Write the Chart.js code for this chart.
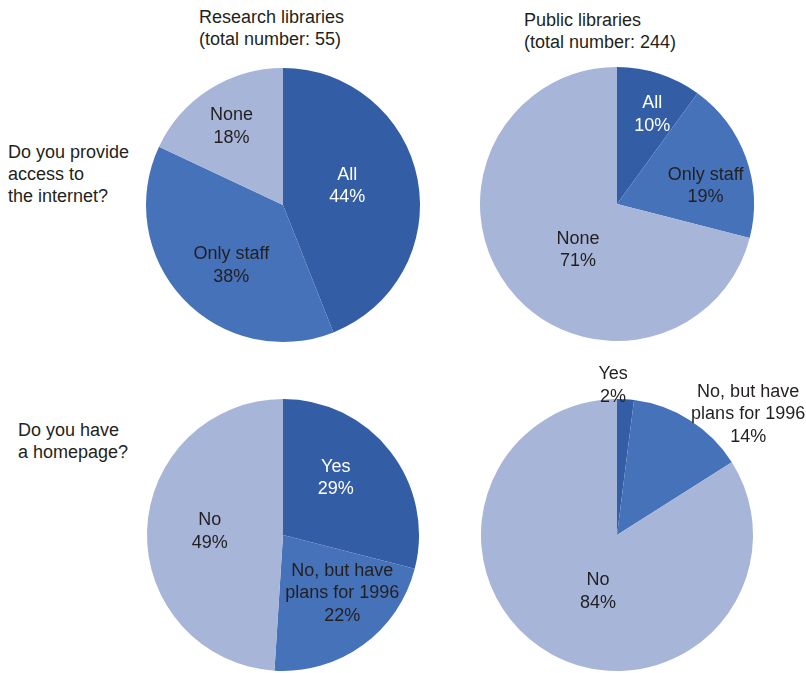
<!DOCTYPE html>
<html lang="en">
<head>
  <meta charset="UTF-8">
  <title>Internet access and homepages in libraries</title>
  <script src="https://cdn.jsdelivr.net/npm/chart.js"></script>
  <style>
    body {
      margin: 0;
      width: 806px;
      height: 673px;
      overflow: hidden;
      background: #fff;
      position: relative;
      font-family: "Liberation Sans", Arial, sans-serif;
      font-size: 18px;
      line-height: 22px;
      color: #231f20;
    }
    .txt { position: absolute; white-space: nowrap; }
    canvas { position: absolute; }
  </style>
</head>
<body>
  <div class="txt" style="left:199px; top:6px;">Research libraries<br>(total number: 55)</div>
  <div class="txt" style="left:524px; top:9px;">Public libraries<br>(total number: 244)</div>
  <div class="txt" style="left:8px; top:141px;">Do you provide<br>access to<br>the internet?</div>
  <div class="txt" style="left:18px; top:419px;">Do you have<br>a homepage?</div>

  <canvas id="researchInternet" width="294" height="294" style="left:136px; top:58px;"></canvas>
  <canvas id="publicInternet" width="294" height="294" style="left:470px; top:57px;"></canvas>
  <canvas id="researchHomepage" width="292" height="292" style="left:137px; top:389px;"></canvas>
  <canvas id="publicHomepage" width="346" height="331" style="left:460px; top:350px;"></canvas>

  <script>
    // data
    const internetLabels = ['All', 'Only staff', 'None'];
    const homepageLabels = ['Yes', 'No, but have\nplans for 1996', 'No'];
    const researchInternet = [44, 38, 18];
    const publicInternet = [10, 19, 71];
    const researchHomepage = [29, 22, 49];
    const publicHomepage = [2, 14, 84];

    const sliceColors = ['#335ea6', '#4672ba', '#a7b5d9'];
    const dark = '#231f20';

    // draws "label / value%" inside (or next to) each slice
    // place = [angle shift in degrees from slice middle, fraction of radius]
    const sliceLabels = {
      id: 'sliceLabels',
      afterDatasetsDraw(chart, args, opts) {
        const ctx = chart.ctx;
        const meta = chart.getDatasetMeta(0);
        const values = chart.data.datasets[0].data;
        ctx.save();
        ctx.font = '18px "Liberation Sans", Arial, sans-serif';
        ctx.textAlign = 'center';
        ctx.textBaseline = 'middle';
        meta.data.forEach((arc, i) => {
          const p = arc.getProps(['x', 'y', 'startAngle', 'endAngle', 'outerRadius'], true);
          const place = opts.place[i];
          const mid = (p.startAngle + p.endAngle) / 2 + place[0] * Math.PI / 180;
          const r = p.outerRadius * place[1];
          const cx = p.x + Math.cos(mid) * r;
          const cy = p.y + Math.sin(mid) * r;
          const lines = chart.data.labels[i].split('\n').concat([values[i] + '%']);
          ctx.fillStyle = opts.colors[i];
          lines.forEach((line, k) => {
            ctx.fillText(line, cx, cy + (k - (lines.length - 1) / 2) * 22.5);
          });
        });
        ctx.restore();
      }
    };

    function makePie(id, labels, values, padding, place, colors) {
      new Chart(document.getElementById(id), {
        type: 'pie',
        data: {
          labels: labels,
          datasets: [{
            data: values,
            backgroundColor: sliceColors,
            borderWidth: 0
          }]
        },
        options: {
          responsive: false,
          animation: false,
          devicePixelRatio: 1,
          layout: { padding: padding },
          plugins: {
            legend: { display: false },
            tooltip: { enabled: false },
            sliceLabels: { place: place, colors: colors }
          }
        },
        plugins: [sliceLabels]
      });
    }

    makePie('researchInternet', internetLabels, researchInternet, 10,
      [[-5.7, 0.49], [-6.2, 0.58], [-0.9, 0.685]], ['#fff', dark, dark]);
    makePie('publicInternet', internetLabels, publicInternet, 10,
      [[3.5, 0.70], [8.2, 0.66], [-12, 0.44]], ['#fff', dark, dark]);
    makePie('researchHomepage', homepageLabels, researchHomepage, 10,
      [[-9.3, 0.57], [-9.5, 0.61], [1, 0.54]], ['#fff', dark, dark]);
    makePie('publicHomepage', homepageLabels, publicHomepage,
      { left: 21, top: 49, right: 53, bottom: 10 },
      [[-5.1, 1.10], [15, 1.31], [-10.4, 0.44]], [dark, dark, dark]);
  </script>
</body>
</html>
